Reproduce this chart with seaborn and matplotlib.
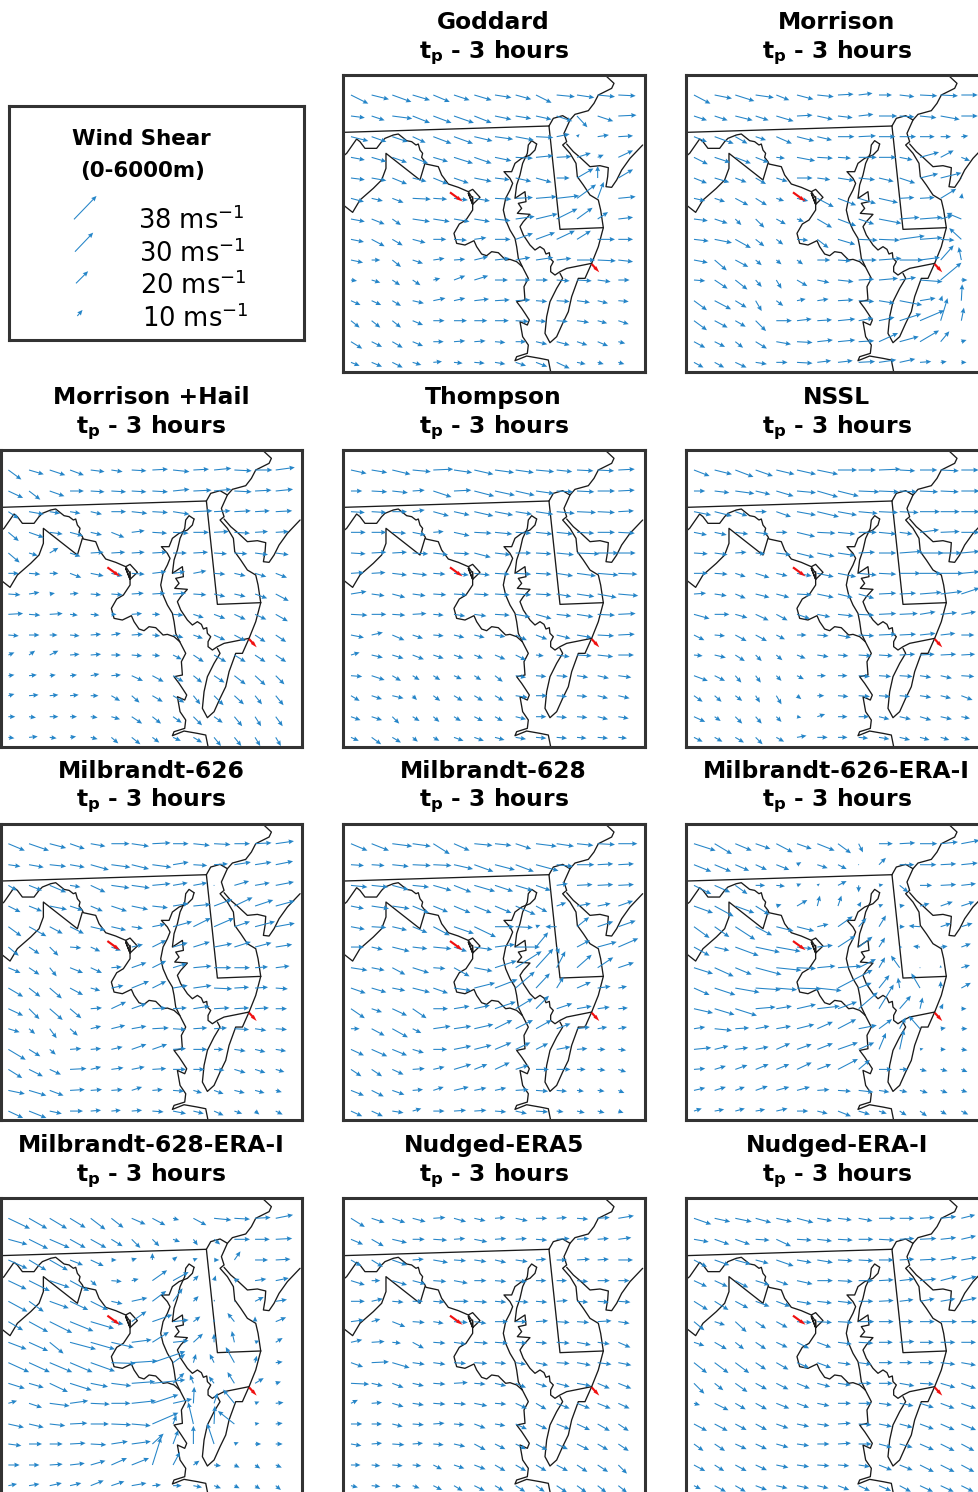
import numpy as np
import pandas as pd
import seaborn as sns
import matplotlib
matplotlib.use("Agg")
import matplotlib.pyplot as plt

# map coordinates of the arrow tails
grid_x = [33, 95, 157, 218, 280, 342, 403, 465, 527, 588, 650, 711, 773, 835]
grid_y = [75, 138, 200, 262, 324, 385, 447, 508, 570, 630, 692, 752, 815, 877]

# wind shear components (m/s), one row per grid_y
goddard_u = [
    [20,20,22,20,19,18,20,19,18,18,21,20,20,20],
    [16,15,23,20,21,23,20,19,18,18,18,12,18,21],
    [20,17,18,15,21,22,21,21,21,20,15,3,13,17],
    [16,17,17,18,17,22,20,19,20,20,17,16,7,17],
    [16,17,17,16,17,17,20,17,18,18,15,19,0,17],
    [15,13,13,21,16,16,18,19,20,24,26,22,7,20],
    [16,15,10,20,19,18,18,18,22,25,24,18,12,17],
    [15,15,12,15,15,15,14,18,20,22,21,16,20,17],
    [14,10,10,12,13,13,16,17,17,20,17,21,21,17],
    [7,10,9,9,8,13,16,15,17,14,15,17,15,13],
    [11,11,10,13,14,13,17,17,17,13,15,15,12,12],
    [10,10,10,12,13,15,15,16,15,12,13,14,11,12],
    [13,12,12,12,12,13,13,12,12,13,15,12,12,8],
    [10,12,12,10,10,10,12,12,12,13,15,10,7,7],
]
goddard_v = [
    [-10,-5,-8,-6,-8,-6,-6,-3,-5,-9,-2,-3,-2,-1],
    [-2,-5,-3,-8,-8,-8,-8,-4,-3,-4,-6,-13,-6,1],
    [-5,-6,-6,-7,-8,-8,-5,-3,-4,-1,3,3,2,1],
    [-3,-5,-6,-7,-5,-7,-7,-4,-1,2,1,5,3,8],
    [-2,-3,-7,-4,-7,-6,-4,-2,-4,-5,0,11,14,10],
    [-4,-3,-5,-1,-1,-2,-3,-1,1,2,3,16,19,2],
    [-3,-6,-7,-3,-3,-3,-3,-2,3,6,12,13,8,2],
    [-3,-8,-7,-4,0,-1,2,0,7,8,10,10,0,0],
    [-3,0,-8,-4,2,1,4,2,3,3,2,0,-1,-2],
    [-1,-3,-6,-6,2,5,5,0,0,0,-1,-1,-2,0],
    [-5,-5,-6,-3,3,3,2,1,1,-1,-1,-2,-3,-1],
    [-8,-8,-8,-5,0,0,0,0,-1,-1,-1,-2,-3,-4],
    [-8,-6,-7,-5,0,1,1,-1,0,-3,-4,-4,-5,-2],
    [-4,-5,-6,-3,1,-1,-1,-2,-4,-5,-7,-2,-2,-2],
]
morrison_u = [
    [19,20,22,21,15,19,19,18,16,15,17,20,20,19],
    [15,15,20,15,20,18,18,17,17,21,17,19,22,19],
    [15,22,14,12,18,20,17,19,20,19,19,17,12,8],
    [16,18,18,15,10,21,18,15,21,20,15,22,15,10],
    [15,17,13,12,13,18,15,19,19,17,18,21,24,0],
    [13,12,15,13,9,13,19,21,20,22,17,17,18,1],
    [16,15,7,10,11,8,17,21,18,26,23,26,14,-17],
    [17,20,18,10,8,13,13,20,22,24,29,26,16,-14],
    [16,14,15,7,6,7,15,15,21,26,27,23,15,-3],
    [13,15,14,7,6,12,14,18,18,22,19,26,24,7],
    [15,19,13,7,8,10,13,18,18,18,26,18,2,1],
    [15,15,12,12,18,17,17,20,17,18,25,28,8,3],
    [13,12,9,13,17,18,18,20,18,22,22,22,10,6],
    [11,11,13,13,13,18,16,17,19,20,18,13,7,6],
]
morrison_v = [
    [-10,-4,-7,-3,-6,-5,-2,1,2,0,-2,-1,-1,0],
    [-5,-5,-5,-5,-6,1,-4,-2,2,0,-1,-2,-4,0],
    [-6,-8,-8,-4,-8,-5,-4,0,1,0,0,0,0,1],
    [-8,-6,-7,-6,-1,-4,-1,-1,0,0,-3,6,8,-4],
    [-6,-5,-5,-7,-4,0,-2,-3,-2,-4,-6,5,6,0],
    [-3,-4,-8,-8,-3,-3,-10,-8,-6,-5,1,1,11,6],
    [-2,-5,-7,-10,-6,-3,-10,-8,-6,-5,2,2,4,7],
    [-2,-4,-10,-8,-6,-1,-10,-6,-1,-1,4,2,-1,13],
    [-3,-12,-8,-6,-5,-5,0,-1,0,2,0,3,17,15],
    [-1,-10,-11,-8,-10,-7,-3,-2,1,2,3,-2,20,0],
    [-11,-10,-8,-12,-6,2,2,1,-1,-3,-5,3,6,19],
    [-11,-8,-7,-12,0,2,1,2,3,4,8,12,26,15],
    [-7,-6,-7,-8,-3,-1,2,2,1,10,6,13,12,2],
    [-6,-6,-6,-2,0,-1,2,2,1,3,4,1,1,0],
]
hail_u = [
    [15,17,18,16,16,13,17,18,19,18,20,20,20,22],
    [17,13,17,16,16,17,17,18,19,21,20,20,19,20],
    [12,17,12,12,13,17,18,18,19,22,19,19,17,19],
    [12,17,15,15,13,15,15,17,18,18,17,18,15,15],
    [13,10,10,12,15,16,15,17,16,17,15,15,15,15],
    [12,13,10,13,15,13,15,16,14,15,13,13,13,13],
    [14,12,6,10,12,13,14,15,15,15,13,13,14,15],
    [17,13,15,9,10,6,12,9,12,12,13,13,13,14],
    [12,12,9,11,12,11,13,9,12,11,13,13,12,12],
    [7,7,10,11,12,11,12,9,10,12,14,13,12,12],
    [7,9,7,8,10,11,13,13,12,10,12,13,12,10],
    [7,11,10,10,9,10,9,12,13,8,11,11,8,9],
    [8,8,10,8,8,10,12,10,10,10,10,9,7,8],
    [7,10,8,7,8,8,10,8,9,10,8,8,6,6],
]
hail_v = [
    [-11,-5,-6,-6,-2,-2,-1,1,-2,1,2,-1,0,3],
    [-8,-10,-6,0,-1,-1,-1,-1,2,1,2,-1,1,2],
    [-8,-3,-2,-2,-3,0,-2,-1,-3,1,1,1,1,1],
    [-10,-6,-2,-4,-3,-6,2,-1,-1,0,1,-1,1,1],
    [-11,-3,6,-4,1,1,1,1,0,1,-1,-1,-2,-2],
    [0,-1,0,-5,-3,-3,-1,2,2,3,-1,-3,-4,-5],
    [-1,2,1,1,-1,-1,1,1,1,-1,-3,-3,-5,-8],
    [1,-1,1,-1,-1,0,1,0,-1,-4,-5,-6,-6,-8],
    [-1,0,0,-1,1,2,1,-1,-3,-4,-6,-7,-8,-8],
    [3,5,5,1,1,0,-1,-1,-5,-8,-8,-8,-8,-8],
    [1,1,1,1,2,1,-6,-7,-7,-8,-8,-10,-11,-10],
    [2,1,1,1,0,-6,-8,-7,-8,-10,-11,-10,-10,-11],
    [0,-1,0,0,-1,-3,-8,-8,-7,-10,-7,-11,-11,-11],
    [-1,1,-1,1,-2,-7,-8,-6,-4,-6,-10,-10,-10,-10],
]
thompson_u = [
    [18,18,21,21,23,21,22,22,21,21,18,19,19,19],
    [13,18,18,14,21,20,23,23,22,21,19,20,20,19],
    [16,17,17,14,18,18,22,21,19,20,21,22,20,18],
    [17,17,16,15,12,18,20,20,18,19,19,20,20,19],
    [17,17,17,18,17,18,19,18,18,18,20,26,24,20],
    [15,16,17,17,14,17,18,17,18,18,19,22,24,22],
    [18,15,15,15,15,15,17,17,18,18,17,20,22,23],
    [19,17,15,16,12,13,14,17,17,18,17,19,20,20],
    [15,13,14,12,12,12,12,12,13,13,16,17,19,19],
    [10,13,13,13,12,11,10,12,12,9,15,17,18,18],
    [13,15,10,8,8,9,8,9,12,12,13,13,13,15],
    [10,12,13,5,8,10,10,10,14,13,12,12,12,13],
    [11,12,8,8,7,8,10,9,12,12,12,12,12,12],
    [9,11,10,6,7,11,11,11,12,12,12,11,12,10],
]
thompson_v = [
    [-4,-3,-5,-2,1,-3,-5,-3,-3,-2,-2,-1,-1,1],
    [0,-1,-2,1,-7,1,-6,-5,-5,-3,-1,-1,0,1],
    [-1,-1,0,2,-5,-4,-5,-4,-3,-3,-2,-1,-1,1],
    [0,0,-1,-3,1,-4,-1,-2,-1,-2,-2,-1,0,-1],
    [-1,1,1,-1,-2,-1,-5,-2,0,-1,-2,-1,0,0],
    [1,1,-2,-2,-1,-2,-2,-1,-1,-1,-3,-3,-2,-1],
    [3,-2,-4,-2,-1,-1,-1,-1,-1,-1,-3,-3,-4,-2],
    [-1,0,-1,1,-1,-2,-2,-1,-3,-5,-2,-3,-1,1],
    [-3,3,-6,-4,-1,-3,-3,-2,-6,-5,-4,-3,-1,1],
    [3,-3,-4,-5,-4,-4,-4,-5,-6,-1,-2,-1,-2,0],
    [-1,-5,-6,-5,-5,-4,-5,-7,-2,-1,-1,-2,-3,-2],
    [-6,-4,-3,-5,-6,-6,-6,-6,-2,0,-1,-1,-3,-3],
    [-4,-4,-8,-5,-6,-5,-5,-5,-3,0,-1,-1,-3,-2],
    [-4,-8,-6,-5,-4,-4,-4,-3,-2,-1,-1,-1,-1,-1],
]
nssl_u = [
    [18,20,21,20,21,22,24,22,20,25,18,20,21,20],
    [13,17,22,17,20,22,24,24,24,23,20,21,21,21],
    [20,20,14,13,17,22,25,22,22,22,22,23,22,21],
    [15,14,15,15,13,21,21,20,21,20,15,22,22,21],
    [16,15,13,11,17,20,20,20,19,20,26,27,24,21],
    [16,15,12,16,13,17,19,21,21,20,24,25,26,21],
    [14,14,12,16,15,17,19,17,18,20,19,25,25,21],
    [18,17,14,15,13,15,15,18,18,20,21,18,19,17],
    [12,12,13,13,10,11,13,15,18,20,19,18,17,15],
    [10,13,11,7,7,10,13,12,15,16,18,17,18,16],
    [16,12,7,6,6,8,10,11,13,14,15,13,13,15],
    [10,8,8,5,6,5,8,12,13,13,12,13,12,13],
    [13,7,8,7,6,5,9,11,12,12,13,13,13,10],
    [10,9,10,8,9,11,12,11,11,12,12,11,10,10],
]
nssl_v = [
    [-7,-5,-8,-7,-5,-5,-5,0,0,1,-1,0,-1,0],
    [0,-2,-3,-4,-6,-2,-7,-6,-1,-1,-1,-1,-1,0],
    [-4,-5,-5,0,-6,-4,-6,-4,-2,-1,-1,0,0,0],
    [-3,-3,-2,-2,0,-5,-1,-2,0,-2,-2,3,1,0],
    [-1,-2,1,-1,-2,-5,-4,-3,1,0,2,0,0,2],
    [0,-1,-4,-5,-3,-3,-4,-4,-2,-1,0,0,0,2],
    [1,-2,-5,-4,-4,-1,-4,-4,-5,1,1,2,3,7],
    [-5,0,-4,-7,-7,-5,-3,-2,-1,1,1,3,2,3],
    [-6,-1,-7,-7,-5,0,-1,-3,-1,1,1,2,2,0],
    [-1,-3,-7,-7,-6,-4,-2,-1,-1,-1,1,1,1,1],
    [-6,-6,-8,-8,-6,-4,0,0,-1,-1,-1,-2,-3,-1],
    [-7,-7,-6,-8,-10,-4,0,-1,-1,-1,-1,-2,-3,-5],
    [-6,-5,-8,-8,-6,-1,3,0,0,-3,-3,-4,-3,-2],
    [-5,-5,-6,-8,-5,2,0,0,-1,-2,-3,-3,-3,-3],
]
m626_u = [
    [19,23,19,17,17,21,20,21,18,19,19,18,19,21],
    [14,17,19,17,21,22,20,22,18,16,16,19,19,20],
    [10,15,19,12,17,21,21,21,17,16,0,17,17,21],
    [14,15,20,15,14,18,19,18,18,20,21,21,21,22],
    [15,20,15,16,17,17,13,15,22,20,23,18,23,22],
    [12,12,10,13,11,11,13,16,17,19,21,19,19,19],
    [14,12,8,15,13,12,17,16,16,21,20,18,15,16],
    [17,13,14,15,11,14,20,16,17,21,21,17,15,14],
    [17,12,15,13,13,17,17,16,16,19,18,17,16,13],
    [13,7,8,9,12,16,17,19,15,16,15,17,13,13],
    [20,13,7,13,12,13,17,17,15,16,11,13,12,12],
    [16,16,13,19,12,14,15,16,15,13,12,13,12,10],
    [19,20,16,17,13,13,12,12,13,10,11,12,11,7],
    [17,20,14,15,12,11,12,13,15,12,11,9,5,8],
]
m626_v = [
    [-8,-8,-5,-6,-3,0,-3,1,0,-2,-1,0,1,3],
    [-2,-3,-2,-3,-6,-3,-5,-3,3,-1,1,3,3,4],
    [-6,-6,-8,-2,-8,-3,-3,2,3,3,0,5,3,4],
    [-7,-6,-4,-5,-6,-6,-4,-2,3,2,8,10,7,6],
    [-11,-11,-8,-8,-4,-4,-2,3,6,10,10,6,6,4],
    [-10,-8,-10,-1,-5,-4,3,8,5,6,4,6,5,3],
    [-6,-8,-10,-6,-6,1,6,8,5,2,0,0,1,2],
    [-10,-10,-12,-8,-3,3,8,8,3,3,-1,1,1,-1],
    [-8,-12,-13,-11,1,8,6,1,1,3,1,1,1,0],
    [-4,-6,-11,-8,3,4,3,1,-1,1,1,-1,-2,-1],
    [-12,-8,-6,1,1,3,6,6,1,0,0,-2,-3,-2],
    [-10,-8,-6,1,3,2,3,1,0,0,-1,-4,-4,-3],
    [-4,-6,-6,1,1,1,4,1,-1,-3,-4,-3,-3,-2],
    [-8,-8,-3,0,1,1,1,-1,-3,-3,-5,-3,-4,-4],
]
m628_u = [
    [19,20,23,21,19,18,21,19,18,24,20,19,20,22],
    [15,15,19,21,21,22,22,23,21,26,19,20,18,18],
    [19,19,19,19,21,20,24,21,20,17,13,18,18,18],
    [15,20,20,19,17,19,20,19,23,13,11,16,15,17],
    [16,17,17,17,19,23,25,22,20,5,-13,14,18,20],
    [15,13,20,17,21,15,21,23,28,14,3,15,22,23],
    [19,15,15,19,14,18,21,25,30,20,10,17,18,18],
    [17,17,15,20,17,20,24,26,22,16,8,16,15,10],
    [16,12,17,16,17,18,18,24,20,15,18,17,14,11],
    [10,15,18,10,20,20,22,20,20,18,16,15,11,10],
    [15,18,17,13,16,20,20,19,17,14,16,12,9,9],
    [12,12,13,14,13,20,15,17,15,15,16,10,9,9],
    [15,14,14,12,12,17,14,13,15,14,12,8,8,7],
    [13,13,13,10,13,14,14,13,13,14,8,9,8,6],
]
m628_v = [
    [-8,-8,-3,-3,-12,-8,-2,-2,-6,-3,-3,-2,-1,0],
    [-1,-1,-2,-1,-1,-5,-8,-6,-8,-7,-2,0,1,1],
    [-2,-2,-5,-2,-6,-8,-7,-7,-6,-6,2,1,1,1],
    [-3,-3,-3,-8,-7,-8,-8,-8,-10,-7,4,3,3,6],
    [-3,-1,-4,-7,-10,-8,-12,0,-1,2,0,11,6,7],
    [0,-3,-5,-2,-2,-5,-3,3,0,17,-8,8,6,10],
    [-3,-3,-8,-6,-1,-10,-4,8,19,22,19,15,12,6],
    [-6,-5,-3,-5,-6,-3,6,10,19,17,13,7,2,2],
    [-11,-4,-8,-11,0,3,4,8,12,15,6,3,2,1],
    [0,-8,-10,-5,3,3,5,10,10,10,6,2,2,2],
    [-7,-8,-7,-4,0,4,5,8,8,7,3,1,0,-1],
    [-8,-8,-6,1,3,6,6,8,5,0,0,0,-1,-3],
    [-6,-7,-5,1,4,4,3,3,1,-1,-1,-1,-1,-3],
    [-6,-6,-2,3,0,1,1,-1,-3,-1,-1,-2,-2,-2],
]
m626e_u = [
    [25,20,19,17,19,17,20,15,5,16,18,20,20,21],
    [20,19,16,13,15,5,12,10,1,8,17,19,18,19],
    [20,18,14,11,10,5,3,10,0,5,10,14,18,17],
    [22,22,22,16,6,12,3,4,3,5,6,11,14,15],
    [18,17,23,19,20,20,13,17,9,8,6,-13,12,13],
    [18,17,27,28,28,18,18,20,16,7,3,-8,8,11],
    [22,22,19,30,29,22,21,27,20,7,-10,1,0,10],
    [18,24,28,29,24,28,28,40,15,12,-2,-10,0,11],
    [22,23,25,23,18,22,26,22,22,17,13,3,3,6],
    [13,20,16,16,17,20,18,21,21,15,7,-13,6,7],
    [20,16,15,15,16,17,18,23,18,8,5,4,6,7],
    [13,13,14,15,15,17,16,23,13,15,10,8,8,7],
    [13,13,11,14,15,15,14,15,17,12,9,9,8,7],
    [9,11,11,11,13,13,12,15,13,9,8,8,7,8],
]
m626e_v = [
    [-8,-12,-8,-6,-10,-6,-8,-11,-10,0,1,0,2,4],
    [-8,-8,-7,-6,-6,3,-4,-5,0,8,0,0,1,2],
    [-10,-8,-10,0,-1,2,2,5,-8,1,-8,0,1,2],
    [-8,-12,-8,-10,2,7,12,12,5,2,1,3,5,5],
    [-13,-12,-15,-10,-5,-5,3,12,10,13,0,1,4,4],
    [-10,-4,-10,-6,-5,-2,2,13,12,11,0,1,1,4],
    [-7,-10,-8,-8,-3,-1,2,2,10,12,14,0,3,3],
    [-8,-8,-5,-2,-2,-1,-3,21,6,15,12,17,8,6],
    [-5,-7,-8,2,3,5,3,8,19,28,15,13,6,0],
    [2,-2,1,3,3,5,8,11,4,11,13,15,1,0],
    [2,4,2,3,7,6,7,8,8,19,23,1,0,-1],
    [1,4,5,6,6,8,6,12,11,0,0,-2,-2,-3],
    [3,4,4,5,4,4,1,-1,-2,-2,-2,-3,-3,-2],
    [3,2,3,2,3,0,-3,-6,-4,-3,-5,-6,-4,-4],
]
m628e_u = [
    [25,21,20,18,17,14,16,15,7,15,20,18,18,20],
    [22,22,23,18,18,13,10,8,8,5,7,18,17,19],
    [22,20,21,15,15,6,6,0,5,5,6,7,15,17],
    [21,24,23,22,7,12,8,17,18,6,2,6,13,15],
    [22,17,22,21,20,13,18,16,11,6,1,1,10,13],
    [17,22,26,27,27,14,17,23,18,8,0,-8,0,12],
    [21,22,16,30,28,26,23,19,18,11,0,-3,5,8],
    [24,24,26,26,28,28,30,38,14,3,-5,-10,2,8],
    [19,17,21,25,20,23,27,38,13,-4,-6,-8,10,6],
    [10,15,23,21,22,22,28,30,22,1,4,-13,5,9],
    [18,17,18,20,21,23,22,30,4,-6,1,-19,5,8],
    [15,15,15,18,18,19,22,13,6,0,-8,5,7,8],
    [13,12,15,17,17,18,20,10,8,7,8,6,6,7],
    [10,12,14,13,15,15,17,10,10,10,8,6,6,6],
]
m628e_v = [
    [-12,-12,-12,-11,-13,-11,-7,-8,-2,-8,-2,-1,1,4],
    [-6,-11,-10,-10,-10,-8,-10,-8,-3,-7,-6,0,0,1],
    [-10,-12,-12,-6,-7,0,2,8,4,2,0,10,0,1],
    [-10,-12,-8,-12,-6,-1,2,12,10,6,6,2,2,3],
    [-12,-12,-8,-10,-10,-3,4,12,15,6,2,-1,5,2],
    [-10,-12,-13,-11,-8,-3,12,8,2,6,3,10,6,5],
    [-8,-10,-13,-8,-8,-6,3,12,2,10,10,13,2,5],
    [-11,-11,-11,-11,-10,-1,2,13,10,10,10,18,8,1],
    [-6,-5,-10,-8,-4,-3,2,4,12,10,8,13,6,2],
    [3,-5,-3,3,-1,0,3,10,5,19,12,16,2,1],
    [-4,-4,-2,1,0,-1,-2,13,10,25,21,15,1,1],
    [-2,0,0,1,-1,3,3,12,16,21,24,2,0,0],
    [0,0,1,2,5,8,8,32,15,5,-1,-3,-4,-3],
    [2,2,3,3,6,5,3,1,0,-2,-3,-3,-4,-5],
]
era5_u = [
    [16,15,15,15,14,14,13,12,14,13,12,13,14,18],
    [14,14,17,14,16,13,15,13,13,13,15,14,13,15],
    [12,13,17,13,17,14,14,13,14,12,12,15,13,17],
    [16,10,17,15,15,16,14,13,13,12,12,13,14,13],
    [16,13,13,12,13,17,15,13,15,13,13,13,13,14],
    [15,10,15,14,12,16,14,15,13,14,15,14,16,13],
    [13,15,10,13,14,14,16,15,13,13,15,16,14,14],
    [14,20,20,14,14,14,15,13,12,14,15,16,16,15],
    [21,13,13,13,14,16,13,13,12,13,15,16,14,15],
    [8,12,13,13,14,14,15,13,13,12,15,15,15,13],
    [13,12,12,13,13,12,13,12,13,13,15,15,14,12],
    [12,12,14,12,12,13,13,12,12,13,13,14,12,12],
    [11,10,12,10,10,12,13,12,12,12,13,12,12,10],
    [8,10,10,8,10,10,12,10,11,10,12,11,10,10],
]
era5_v = [
    [-10,-5,-5,-4,1,-4,-3,1,-3,0,1,-1,1,3],
    [-6,-8,-4,0,-1,1,-3,1,1,-1,1,1,1,2],
    [-7,-8,-6,1,-3,-1,-2,-3,-2,1,0,1,1,0],
    [-5,0,-5,-4,-1,-3,0,-1,-1,0,0,-1,0,0],
    [0,3,-1,0,-1,0,-1,-1,-1,-1,1,-1,-1,-1],
    [2,3,-6,-1,-2,-1,-2,0,0,1,-1,-1,1,-2],
    [3,1,-1,-7,-1,-2,-1,-1,-1,-1,-1,-3,-2,-6],
    [-5,1,-6,-2,-2,-1,-1,-1,-2,-3,-1,-3,-2,-3],
    [-1,-3,-5,-3,-1,1,-1,-3,-5,-4,-4,-3,-6,-6],
    [4,1,-4,-2,-1,-1,-3,-1,-6,-7,-6,-6,-6,-6],
    [0,0,-3,-1,1,-1,-5,-2,-6,-6,-6,-7,-8,-8],
    [-2,1,-1,1,-1,-3,-7,-6,-6,-7,-6,-7,-7,-8],
    [0,-1,-1,-1,-5,-4,-5,-7,-7,-7,-7,-8,-8,-10],
    [-2,-1,-1,-3,-5,-6,-6,-6,-7,-7,-8,-8,-8,-8],
]
erai_u = [
    [20,18,19,18,18,19,17,16,16,19,17,17,18,16],
    [17,17,17,16,17,17,17,17,17,18,17,19,18,17],
    [15,17,18,15,20,17,18,17,17,17,17,19,19,18],
    [15,15,15,16,14,18,18,17,17,17,17,19,19,18],
    [16,16,15,16,16,17,17,17,17,17,16,17,17,18],
    [12,12,13,12,13,17,17,17,18,17,16,17,19,18],
    [12,14,10,12,13,14,16,16,17,16,17,16,17,17],
    [15,16,16,12,14,14,16,15,15,16,15,16,17,17],
    [12,10,14,13,14,15,15,15,15,16,17,16,17,17],
    [7,16,12,13,15,14,14,15,15,15,16,16,16,17],
    [15,15,13,13,14,14,14,15,15,15,15,16,16,17],
    [11,12,13,13,14,14,14,15,15,15,15,16,16,15],
    [13,11,13,13,14,14,14,13,13,15,15,16,16,15],
    [8,13,12,13,13,14,13,13,13,14,13,15,15,14],
]
erai_v = [
    [-7,-4,-4,-5,-4,-5,-3,-2,-3,0,0,1,2,4],
    [-3,-6,-6,-1,-8,-1,-2,-1,0,-1,1,1,2,4],
    [-8,-6,-5,-4,-7,-3,-3,-1,-1,0,1,1,3,3],
    [-7,-7,-8,-5,-5,-4,0,-1,0,1,2,2,5,5],
    [-10,-10,-8,-6,-6,-3,-2,-2,0,1,2,3,3,4],
    [-10,-4,-12,-8,-7,-1,-1,-1,0,0,0,0,0,0],
    [-4,-8,-8,-8,-6,-7,-6,-2,-1,0,1,0,0,0],
    [-12,-12,-12,-8,-8,-6,-6,-2,-2,0,0,0,-2,-3],
    [-12,-8,-10,-7,-7,-6,-4,-2,0,0,-3,-1,-5,-6],
    [-2,-8,-7,-7,-6,-5,-3,0,0,-2,-3,-5,-6,-6],
    [-8,-8,-7,-7,-5,-3,-2,1,-1,-3,-4,-6,-7,-7],
    [-8,-8,-6,-6,-4,-2,0,1,0,-4,-4,-7,-8,-8],
    [-7,-7,-7,-6,-3,-2,-1,-1,-2,-6,-6,-8,-8,-8],
    [-4,-7,-7,-5,-3,-3,-3,-5,-6,-6,-7,-7,-7,-7],
]

titles = ["Goddard", "Morrison", "Morrison +Hail", "Thompson", "NSSL", "Milbrandt-626",
          "Milbrandt-628", "Milbrandt-626-ERA-I", "Milbrandt-628-ERA-I", "Nudged-ERA5", "Nudged-ERA-I"]
fields_u = [goddard_u, morrison_u, hail_u, thompson_u, nssl_u, m626_u, m628_u, m626e_u, m628e_u, era5_u, erai_u]
fields_v = [goddard_v, morrison_v, hail_v, thompson_v, nssl_v, m626_v, m628_v, m626e_v, m628e_v, era5_v, erai_v]

# storm line markers
red_x = [330, 755]
red_y = [367, 582]
red_u = [14.5, 8.8]
red_v = [-10.5, -9.6]

# map outlines
pa_x = [10, 627]
pa_y = [187, 168]
de_w_x = [627, 660, 790]
de_w_y = [168, 478, 473]
de_x = [790, 782, 775, 750, 730, 712, 708, 690, 668, 680, 672, 690, 668, 640, 627]
de_y = [473, 420, 390, 375, 345, 320, 280, 250, 225, 215, 190, 150, 137, 145, 168]
river_x = [795, 822, 815, 775, 762, 745, 705, 690]
river_y = [15, 40, 55, 75, 100, 122, 133, 150]
nj_x = [680, 700, 720, 750, 780, 805, 803, 798, 815, 830, 845, 870, 908]
nj_y = [222, 245, 262, 290, 287, 293, 320, 350, 352, 330, 300, 265, 225]
pot_x = [10, 20, 50, 60, 75, 110, 125, 135, 160, 175, 200, 215, 228, 235, 240, 248, 245, 255, 258,
         295, 305, 325, 355, 385, 398, 398, 378, 358, 342, 350, 375, 402, 410, 425, 440, 455, 475,
         497, 510, 530, 547]
pot_y = [258, 250, 207, 215, 235, 235, 215, 205, 195, 192, 212, 215, 225, 222, 240, 250, 262, 275, 282,
         290, 315, 342, 352, 365, 385, 420, 450, 462, 490, 520, 525, 512, 530, 552, 557, 545, 548,
         570, 568, 575, 590]
wv_x = [10, 38, 60, 100, 125, 138, 138, 240, 255]
wv_y = [405, 427, 390, 355, 330, 295, 250, 330, 280]
dc_x = [385, 398, 420, 398, 385, 398, 398]
dc_y = [365, 358, 382, 403, 370, 403, 380]
bay_w_x = [590, 585, 570, 545, 525, 515, 492, 510, 518, 510, 497, 490, 497, 510, 525, 530, 535, 547]
bay_w_y = [222, 240, 255, 265, 280, 305, 305, 325, 340, 360, 385, 420, 450, 480, 505, 530, 565, 590]
bay_e_x = [590, 575, 565, 562, 548, 540, 530, 525, 555, 558, 535, 545, 532, 570, 550, 540, 550,
           570, 575, 585, 600, 612, 618, 628, 630, 640, 632, 632, 645, 660, 680, 755]
bay_e_y = [222, 212, 225, 250, 280, 315, 345, 385, 365, 395, 400, 415, 430, 433, 455, 470, 495,
           525, 530, 540, 530, 538, 552, 548, 565, 575, 590, 605, 615, 605, 595, 580]
shore_x = [660, 668, 650, 630, 620, 615, 630, 650, 668, 685, 695, 715, 735, 755, 775, 790]
shore_y = [610, 625, 655, 695, 740, 790, 818, 800, 760, 725, 680, 625, 625, 580, 530, 473]
va_x = [547, 565, 552, 555, 530, 545, 555, 568, 562, 540, 548, 565, 562, 530, 525, 560, 600, 625, 632]
va_y = [590, 625, 650, 690, 695, 715, 730, 750, 765, 755, 800, 825, 850, 860, 872, 858, 865, 870, 905]

outlines = [(pa_x, pa_y), (de_w_x, de_w_y), (de_x, de_y), (river_x, river_y), (nj_x, nj_y), (pot_x, pot_y),
            (wv_x, wv_y), (dc_x, dc_y), (bay_w_x, bay_w_y), (bay_e_x, bay_e_y), (shore_x, shore_y), (va_x, va_y)]

# legend
legend_labels = ["38 ms$^{-1}$", "30 ms$^{-1}$", "20 ms$^{-1}$", "10 ms$^{-1}$"]
legend_u = [26, 21, 14, 6]
legend_v = [27, 22, 14, 7]

sns.set_theme(style="white")
plt.rcParams["font.family"] = ["DejaVu Sans"]
plt.rcParams["mathtext.fontset"] = "dejavusans"

W, H = 979, 1492
fig = plt.figure(figsize=(W / 100, H / 100), dpi=100)
BLUE = "#2585c8"
SCALE = 1 / 2.6
PANEL_W, PANEL_H = 301.7, 296.7
col_px = [0.7, 343.3, 686.3]
row_px = [75, 450, 823.7, 1198.3]
slots = [(1, 0), (2, 0), (0, 1), (1, 1), (2, 1), (0, 2), (1, 2), (2, 2), (0, 3), (1, 3), (2, 3)]
arrow_kw = dict(color=BLUE, angles="xy", scale_units="xy", scale=SCALE, units="xy",
                width=3.2, headwidth=4.5, headlength=5, headaxislength=4.5, zorder=3)

coast = pd.concat([pd.DataFrame({"x": xs, "y": ys, "seg": i}) for i, (xs, ys) in enumerate(outlines)])
X, Y = np.meshgrid(grid_x, grid_y)

for name, u, v, (c, r) in zip(titles, fields_u, fields_v, slots):
    ax = fig.add_axes([col_px[c] / W, 1 - (row_px[r] + PANEL_H) / H, PANEL_W / W, PANEL_H / H])
    sns.lineplot(data=coast, x="x", y="y", units="seg", estimator=None, sort=False,
                 color="#1a1a1a", lw=0.95, ax=ax, legend=False)
    ax.quiver(X, Y, np.array(u), -np.array(v), **arrow_kw)
    ax.quiver(red_x, red_y, red_u, -np.array(red_v), color="#f01010", angles="xy", scale_units="xy", scale=SCALE,
              units="xy", width=6.5, headwidth=1.8, headlength=3, headaxislength=3, zorder=4)
    ax.set_xlim(10, 915)
    ax.set_ylim(905, 15)
    ax.set(xlabel="", ylabel="", xticks=[], yticks=[])
    for s in ax.spines.values():
        s.set_visible(True)
        s.set_color("#333333")
        s.set_linewidth(2.2)
    cx = (col_px[c] + PANEL_W / 2 - 0.5) / W
    top = row_px[r]
    fig.text(cx, 1 - (top - 52.5) / H, name, ha="center", va="center", fontsize=16.8, fontweight="bold", color="black")
    fig.text(cx, 1 - (top - 22.5) / H, r"$\mathbf{t_p}$ - 3 hours", ha="center", va="center",
             fontsize=16.8, fontweight="bold", color="black")

# legend box
lax = fig.add_axes([9.3 / W, 1 - 340 / H, 294.7 / W, 234.3 / H])
lax.set_xlim(28, 912)
lax.set_ylim(720, 17)
lax.set(xticks=[], yticks=[])
for s in lax.spines.values():
    s.set_visible(True)
    s.set_color("#333333")
    s.set_linewidth(2.2)
lax.text(425, 118, "Wind Shear", ha="center", va="center", fontsize=15.4, fontweight="bold", color="black")
lax.text(428, 213, "(0-6000m)", ha="center", va="center", fontsize=15.4, fontweight="bold", color="black")
lax.quiver([222, 225, 228, 232], [358, 455, 550, 648], legend_u, -np.array(legend_v), **arrow_kw)
for lab, tx, ty in zip(legend_labels, [413, 416, 420, 426], [362, 460, 558, 655]):
    lax.text(tx, ty, lab, ha="left", va="center", fontsize=18.5, color="black")

fig.savefig("out.png", dpi=100)
